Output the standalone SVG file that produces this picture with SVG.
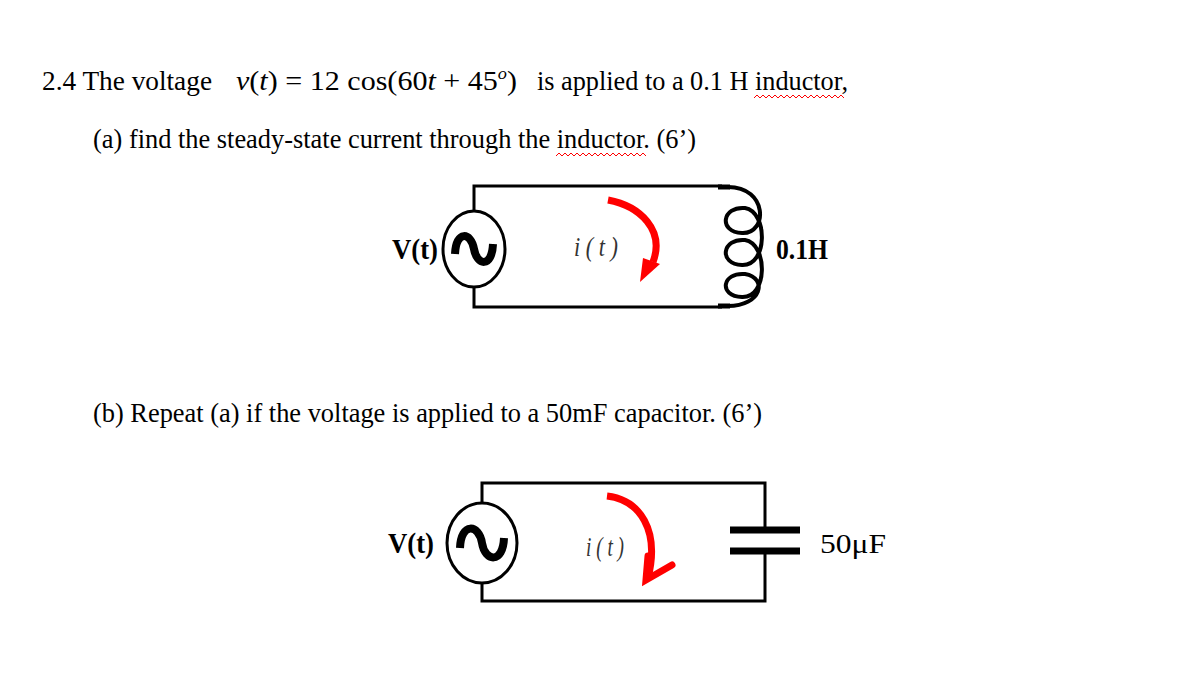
<svg xmlns="http://www.w3.org/2000/svg" width="1190" height="690" viewBox="0 0 1190 690">
<style>
.t{font-family:"Liberation Serif",serif;font-size:28px;fill:#000}
.m{font-family:"Liberation Serif",serif;font-size:28px;fill:#000}
.lb{font-family:"Liberation Serif",serif;font-size:30px;font-weight:bold;fill:#000}
.it{font-family:"Liberation Serif",serif;font-style:italic;font-size:27px;fill:#333}
.w{fill:none;stroke:#000;stroke-width:3}
.red{fill:none;stroke:#f00;stroke-width:1}
.arr{fill:none;stroke:#f00;stroke-width:7}
</style>
<rect width="1190" height="690" fill="#fff"/>
<g id="text">
<text class="t" x="42" y="90" textLength="170" lengthAdjust="spacingAndGlyphs">2.4 The voltage</text>
<text class="m" x="236" y="90" textLength="281" lengthAdjust="spacingAndGlyphs"><tspan font-style="italic">v</tspan>(<tspan font-style="italic">t</tspan>) = 12 cos(60<tspan font-style="italic">t</tspan> + 45<tspan font-size="17" dy="-11" font-style="italic">o</tspan><tspan dy="11">)</tspan></text>
<text class="t" x="537" y="90" textLength="311" lengthAdjust="spacingAndGlyphs">is applied to a 0.1 H inductor,</text>
<polyline class="red" points="754,98 757,95 760,98 763,95 766,98 769,95 772,98 775,95 778,98 781,95 784,98 787,95 790,98 793,95 796,98 799,95 802,98 805,95 808,98 811,95 814,98 817,95 820,98 823,95 826,98 829,95 832,98 835,95 838,98 841,95 844,98"/>
<text class="t" x="93" y="148" textLength="603" lengthAdjust="spacingAndGlyphs">(a) find the steady-state current through the inductor. (6’)</text>
<polyline class="red" points="556,156 559,153 562,156 565,153 568,156 571,153 574,156 577,153 580,156 583,153 586,156 589,153 592,156 595,153 598,156 601,153 604,156 607,153 610,156 613,153 616,156 619,153 622,156 625,153 628,156 631,153 634,156 637,153 640,156 643,153 646,156"/>
<text class="t" x="93" y="422" textLength="669" lengthAdjust="spacingAndGlyphs">(b) Repeat (a) if the voltage is applied to a 50mF capacitor. (6’)</text>
</g>
<g id="connectors">
<polyline class="w" points="474,211 474,186 722,186"/>
<polyline class="w" points="474,288 474,307 722,307"/>
<polyline class="w" points="482,503 482,483 765,483 765,530"/>
<polyline class="w" points="482,582 482,601 765,601 765,551"/>
</g>
<g id="source1">
<ellipse class="w" cx="474" cy="249" rx="31" ry="38"/>
<path d="M455,254 C456,230 471,232 474,249 C477,266 492,268 493,244" fill="none" stroke="#000" stroke-width="8"/>
<text class="lb" x="392" y="259" textLength="46" lengthAdjust="spacingAndGlyphs">V(t)</text>
</g>
<g id="inductor1">
<line x1="718" y1="187" x2="730" y2="187" stroke="#000" stroke-width="5"/>
<line x1="718" y1="306" x2="730" y2="306" stroke="#000" stroke-width="5"/>
<path d="M728,187 C768,187 768,234 742,233 C718,232 722,206 745,208 C768,212 768,266 742,265 C718,264 722,238 745,240 C768,244 768,298 742,297 C718,296 722,272 745,274 C768,278 762,306 728,306" fill="none" stroke="#000" stroke-width="4"/>
<text class="lb" x="776" y="259" textLength="52" lengthAdjust="spacingAndGlyphs">0.1H</text>
</g>
<g id="current1">
<text class="it" x="574" y="256" textLength="44" lengthAdjust="spacingAndGlyphs">i ( t )</text>
<path class="arr" d="M608,200 C640,206 665,230 653,262"/>
<polygon points="640,282 660,264 643,258" fill="#f00"/>
</g>
<g id="source2">
<ellipse class="w" cx="482" cy="543" rx="35" ry="40"/>
<path d="M460,548 C461,522 479,524 482,543 C485,562 503,564 504,538" fill="none" stroke="#000" stroke-width="8"/>
<text class="lb" x="388" y="553" textLength="46" lengthAdjust="spacingAndGlyphs">V(t)</text>
</g>
<g id="capacitor2">
<line x1="730" y1="530" x2="800" y2="530" stroke="#000" stroke-width="7"/>
<line x1="730" y1="551" x2="800" y2="551" stroke="#000" stroke-width="7"/>
<text class="t" x="820" y="553" font-size="32" textLength="66" lengthAdjust="spacingAndGlyphs">50μF</text>
</g>
<g id="current2">
<text class="it" x="586" y="556" textLength="38" lengthAdjust="spacingAndGlyphs">i ( t )</text>
<path class="arr" d="M607,496 C640,500 660,530 648,578"/>
<polyline points="648,556 646,580 672,565" fill="none" stroke="#f00" stroke-width="7" stroke-linecap="round"/>
</g>
</svg>
